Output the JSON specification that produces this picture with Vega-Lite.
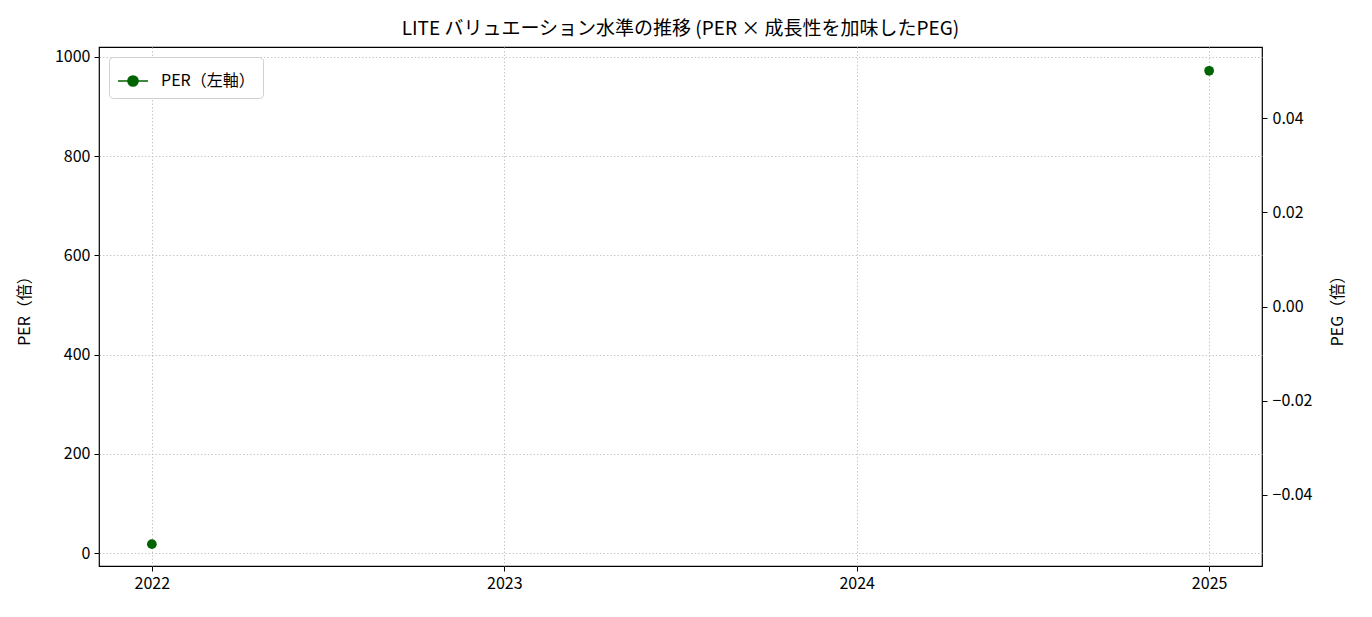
{
  "$schema": "https://vega.github.io/schema/vega-lite/v6.json",
  "width": 1163,
  "height": 519,
  "autosize": {"type": "none"},
  "padding": {"left": 99, "top": 47, "right": 110, "bottom": 51},
  "background": "white",
  "config": {
    "font": "Noto Sans CJK JP",
    "view": {"stroke": "black", "strokeWidth": 1.2},
    "axis": {
      "domain": false,
      "tickColor": "black",
      "tickSize": 5,
      "labelFontSize": 16,
      "labelColor": "black",
      "titleFontSize": 16,
      "titleFontWeight": "normal",
      "titleColor": "black",
      "gridColor": "#c8c8c8",
      "gridDash": [1.5, 2],
      "gridWidth": 1
    },
    "legend": {
      "labelFontSize": 16,
      "labelColor": "black",
      "fillColor": "white",
      "strokeColor": "#d0d0d0",
      "cornerRadius": 4,
      "padding": 8
    }
  },
  "title": {
    "text": "LITE バリュエーション水準の推移 (PER × 成長性を加味したPEG)",
    "fontSize": 19,
    "fontWeight": "normal",
    "color": "black",
    "anchor": "middle",
    "frame": "group",
    "offset": 8
  },
  "data": {
    "values": [
      {"year": 2022, "PER": 18, "PEG": null},
      {"year": 2023, "PER": null, "PEG": null},
      {"year": 2024, "PER": null, "PEG": null},
      {"year": 2025, "PER": 972, "PEG": null}
    ]
  },
  "encoding": {
    "x": {
      "field": "year",
      "type": "quantitative",
      "scale": {"domain": [2021.85, 2025.15], "nice": false, "zero": false},
      "axis": {"values": [2022, 2023, 2024, 2025], "format": "d", "title": null, "labelPadding": 4}
    }
  },
  "layer": [
    {
      "mark": {"type": "line", "color": "#006400", "strokeWidth": 1.5, "point": {"filled": true, "size": 95, "color": "#006400"}},
      "encoding": {
        "y": {
          "field": "PER",
          "type": "quantitative",
          "scale": {"domain": [-26, 1020], "nice": false, "zero": false},
          "axis": {"values": [0, 200, 400, 600, 800, 1000], "format": "d", "title": "PER（倍）", "titlePadding": 22, "labelPadding": 4}
        },
        "color": {
          "datum": "PER（左軸）",
          "type": "nominal",
          "scale": {"range": ["#006400"]},
          "legend": {
            "title": null,
            "orient": "top-left",
            "offset": 10,
            "symbolType": "M-1,0H1M-0.34,0A0.34,0.34,0,1,1,0.34,0A0.34,0.34,0,1,1,-0.34,0Z",
            "symbolSize": 900,
            "symbolStrokeWidth": 1.5,
            "symbolFillColor": "#006400",
            "symbolStrokeColor": "#006400",
            "labelOffset": 12
          }
        }
      }
    },
    {
      "mark": {"type": "point", "opacity": 0},
      "encoding": {
        "y": {
          "field": "PEG",
          "type": "quantitative",
          "scale": {"domain": [-0.0552, 0.0552], "nice": false, "zero": false},
          "axis": {
            "orient": "right",
            "values": [-0.04, -0.02, 0, 0.02, 0.04],
            "labelExpr": "replace(format(datum.value, '.2f'), '-', '−')",
            "grid": false,
            "title": "PEG（倍）",
            "titleAngle": 270,
            "titlePadding": 34,
            "labelPadding": 5
          }
        }
      }
    }
  ],
  "resolve": {"scale": {"y": "independent"}}
}
